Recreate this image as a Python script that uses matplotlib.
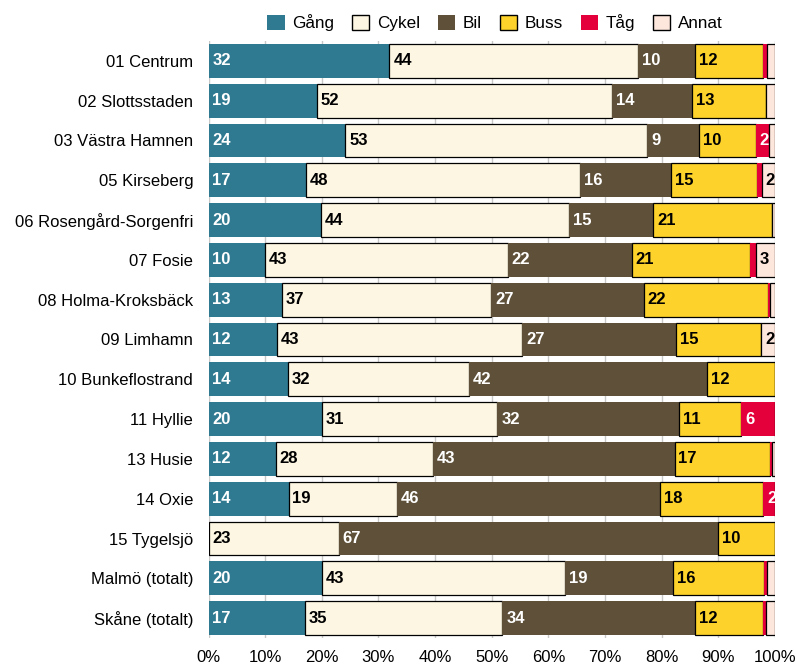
import matplotlib
matplotlib.use("Agg")
import matplotlib.pyplot as plt
import numpy as np
from matplotlib.patches import Patch

plt.rcParams['font.family'] = ['Liberation Sans', 'DejaVu Sans']

categories = ["01 Centrum", "02 Slottsstaden", "03 Västra Hamnen", "05 Kirseberg",
              "06 Rosengård-Sorgenfri", "07 Fosie", "08 Holma-Kroksbäck", "09 Limhamn",
              "10 Bunkeflostrand", "11 Hyllie", "13 Husie", "14 Oxie", "15 Tygelsjö",
              "Malmö (totalt)", "Skåne (totalt)"]

series_names = ["Gång", "Cykel", "Bil", "Buss", "Tåg", "Annat"]

gang  = [32, 19, 24, 17, 20, 10, 13, 12, 14, 20, 12, 14, 0, 20, 17]
cykel = [44, 52, 53, 48, 44, 43, 37, 43, 32, 31, 28, 19, 23, 43, 35]
bil   = [10, 14, 9, 16, 15, 22, 27, 27, 42, 32, 43, 46, 67, 19, 34]
buss  = [12, 13, 10, 15, 21, 21, 22, 15, 12, 11, 17, 18, 10, 16, 12]
tag   = [0.7, 0.0, 2.3, 0.9, 0.0, 1.0, 0.3, 0.0, 0.0, 6, 0.3, 2.1, 0.0, 0.5, 0.6]
annat = [1.5, 1.6, 1.1, 2.3, 0.6, 3.4, 0.9, 2.4, 0.0, 0.0, 0.6, 0.0, 0.0, 1.5, 1.6]

colors = ["#2F7A91", "#FDF6E3", "#5E5039", "#FCD22B", "#E4003A", "#FDE6DC"]
edges = [None, "black", None, "black", None, "black"]
text_colors = ["white", "black", "white", "black", "white", "black"]

raw = np.array([gang, cykel, bil, buss, tag, annat], dtype=float)
data = raw / raw.sum(axis=0) * 100.0

fig = plt.figure(figsize=(7.96, 6.66), dpi=100)
ax = fig.add_axes([208.5/796, 1-638/666, (775-208.5)/796, (638-41)/666])

y = np.arange(len(categories))
left = np.zeros(len(categories))
for i, name in enumerate(series_names):
    vals = data[i]
    ec = edges[i] if edges[i] else "none"
    lw = 0.9 if edges[i] else 0
    ax.barh(y, vals, left=left, height=0.85, color=colors[i], edgecolor=ec,
            linewidth=lw, zorder=3, label=name)
    for j, v in enumerate(vals):
        if raw[i][j] >= 2:
            ax.text(left[j] + 0.7, y[j], f"{int(round(raw[i][j]))}", ha="left", va="center",
                    color=text_colors[i], fontsize=12, fontweight="bold", zorder=5,
                    clip_on=True)
    left += vals

ax.set_xlim(0, 100)
ax.set_ylim(len(categories) - 0.5, -0.5)
ax.set_xticks(np.arange(0, 101, 10))
ax.set_xticklabels([f"{t}%" for t in range(0, 101, 10)], fontsize=12)
ax.set_yticks(y)
ax.set_yticklabels(categories, fontsize=12)
ax.tick_params(axis="both", length=0)
ax.tick_params(axis="y", pad=11)
ax.tick_params(axis="x", pad=9)
ax.xaxis.grid(True, color="#c8c8c8", linewidth=1.0, zorder=0)
ax.set_axisbelow(True)
for s in ax.spines.values():
    s.set_visible(False)

handles = [Patch(facecolor=colors[i], edgecolor=(edges[i] if edges[i] else colors[i]),
                 linewidth=(1.0 if edges[i] else 0)) for i in range(len(series_names))]
fig.legend(handles, series_names, loc="upper center", bbox_to_anchor=(495/796, 1.0),
           ncol=6, frameon=False, fontsize=12.3, handlelength=1.0, handleheight=1.0,
           handletextpad=0.45, columnspacing=1.05, borderaxespad=0.45)

fig.savefig("out.png", dpi=100)
